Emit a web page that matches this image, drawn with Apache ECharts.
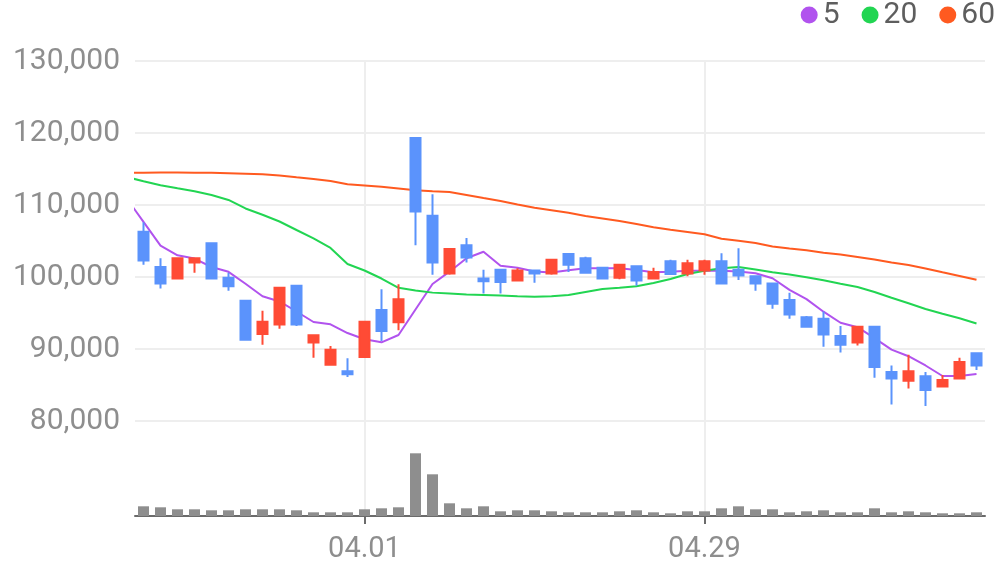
<!DOCTYPE html>
<html>
<head>
<meta charset="utf-8">
<script src="https://cdn.jsdelivr.net/npm/echarts@6/dist/echarts.min.js"></script>
<style>
html,body{margin:0;padding:0;background:#ffffff;}
#chart{width:996px;height:567px;}
</style>
</head>
<body>
<div id="chart"></div>
<script>
// Trading days (first entry lies just left of the visible window)
const categories = [
  '03.12','03.13','03.14','03.15','03.18','03.19','03.20','03.21','03.22','03.25','03.26','03.27','03.28','03.29',
  '04.01','04.02','04.03','04.04','04.05','04.08','04.09','04.10','04.11','04.12','04.15','04.16','04.17','04.18','04.19',
  '04.22','04.23','04.24','04.25','04.26','04.29',
  '04.30','05.02','05.03','05.07','05.08','05.09','05.10','05.13','05.14','05.16','05.17','05.20','05.21','05.22','05.23','05.24'
];
// [open, close, low, high]
const candles = [
  '-',
  [106300,102300,101700,107600],
  [101400, 99100, 98400,102600],
  [ 99800,102600, 99800,102600],
  [102000,102600,100600,102600],
  [104700, 99800, 99800,104700],
  [ 99900, 98700, 98100,100600],
  [ 96700, 91300, 91300, 96700],
  [ 92100, 93800, 90600, 95300],
  [ 93400, 98500, 92800, 98500],
  [ 98800, 93400, 93200, 98800],
  [ 90900, 91900, 88800, 91900],
  [ 87800, 89900, 87700, 90400],
  [ 86900, 86500, 86100, 88700],
  [ 88900, 93800, 88900, 93800],
  [ 95400, 92500, 91100, 98300],
  [ 93700, 96900, 92600, 99000],
  [119300,109100,104400,119300],
  [108500,102000,100300,111500],
  [100500,103900,100300,103900],
  [104400,102700,102000,105400],
  [ 99800, 99400, 97700,101000],
  [101000, 99300, 97700,101100],
  [ 99500,100900, 99500,101200],
  [100900,100500, 99200,100900],
  [100500,102400,100300,102400],
  [103200,101700,100700,103200],
  [102600,100600,100600,102800],
  [101300, 99800, 99800,101300],
  [ 99900,101700, 99700,101700],
  [101500, 99500, 98800,101500],
  [ 99800,100700, 99800,101300],
  [102200,100400,100400,102400],
  [100500,101900,100100,102400],
  [100900,102200,100300,102400],
  [102200, 99100, 99100,103300],
  [101000,100200, 99600,104000],
  [100100, 99100, 98100,100100],
  [ 99100, 96300, 95600, 99100],
  [ 96800, 94800, 94200, 97800],
  [ 94400, 93100, 93100, 94600],
  [ 94200, 92000, 90300, 95200],
  [ 91800, 90600, 89500, 93200],
  [ 90900, 93100, 90500, 93100],
  [ 93100, 87500, 86000, 93100],
  [ 86800, 85900, 82300, 87700],
  [ 85600, 86900, 84500, 89200],
  [ 86200, 84300, 82100, 86800],
  [ 84800, 85700, 84800, 86400],
  [ 85900, 88200, 85900, 88800],
  [ 89400, 87700, 87100, 89400]
];
const volumes = [
  '-',
  291000,261000,201000,201000,171000,171000,201000,201000,201000,171000,
  111000,111000,111000,201000,231000,261000,1881000,1251000,381000,231000,
  291000,141000,171000,171000,141000,111000,111000,111000,141000,171000,
  111000,81000,141000,141000,231000,291000,201000,201000,111000,141000,
  171000,111000,111000,231000,111000,141000,111000,81000,81000,111000
];
const ma5 = [
  110960,107650,104350,103010,102560,101390,100720,99070,97330,96600,
  95210,93750,93430,92220,91360,90930,91940,95490,99030,100740,
  102600,103510,101570,101290,100760,100630,100950,101200,101210,101210,
  100970,100650,100740,100880,100880,100880,100750,100510,99830,98220,
  96920,95180,93650,93030,91500,89920,89000,87710,86250,86250,86530
];
const ma20 = [
  113890,113290,112740,112320,111920,111390,110700,109520,108650,107710,
  106530,105360,104030,101810,100900,99790,98500,98130,97830,97710,
  97580,97500,97420,97330,97260,97330,97500,97920,98330,98500,
  98710,99170,99720,100420,100860,101210,101380,101040,100650,100350,
  99970,99540,99070,98610,97920,97110,96350,95560,94890,94280,93540
];
const ma60 = [
  114490,114490,114500,114500,114490,114470,114420,114350,114270,114100,
  113850,113610,113330,112890,112710,112530,112290,112040,111900,111810,
  111390,110970,110560,110070,109610,109280,108920,108470,108130,107780,
  107360,106920,106570,106250,105930,105320,105030,104720,104240,103960,
  103710,103380,103130,102780,102430,102010,101670,101180,100650,100140,99610
];
const maNames = ['5','20','60'];
const xTickLabels = ['04.01','04.29'];
const priceTicks = [80000, 90000, 100000, 110000, 120000, 130000];

const FONT = 'Roboto';
const GRID_COLOR = '#eeeeee';
const showAt = (i, v) => xTickLabels.indexOf(v) >= 0;

const chart = echarts.init(document.getElementById('chart'), null, {renderer: 'canvas'});
chart.setOption({
  animation: false,
  backgroundColor: '#ffffff',
  legend: {
    data: maNames,
    right: 1, top: 0, padding: 0,
    itemGap: 22, itemWidth: 17, itemHeight: 17, icon: 'circle',
    textStyle: {fontSize: 30, color: '#5e5e5e', fontFamily: FONT}
  },
  grid: [
    {left: 135, right: 11, top: 61, height: 360},
    {left: 135, right: 11, top: 421, height: 95}
  ],
  xAxis: [
    {
      type: 'category', gridIndex: 0, data: categories, min: 1, max: categories.length - 1,
      boundaryGap: true,
      axisLine: {show: false}, axisTick: {show: false}, axisLabel: {show: false},
      splitLine: {show: true, interval: showAt, alignWithLabel: true, lineStyle: {color: GRID_COLOR, width: 2}}
    },
    {
      type: 'category', gridIndex: 1, data: categories, min: 1, max: categories.length - 1,
      boundaryGap: true,
      axisLine: {show: true, lineStyle: {color: '#6b6b6b', width: 2}},
      axisTick: {show: true, interval: showAt, alignWithLabel: true, length: 8, lineStyle: {color: '#6b6b6b', width: 2}},
      axisLabel: {interval: showAt, margin: 19, fontSize: 29, color: '#8e8e8e', fontFamily: FONT},
      splitLine: {show: true, interval: showAt, alignWithLabel: true, lineStyle: {color: GRID_COLOR, width: 2}}
    }
  ],
  yAxis: [
    {
      type: 'value', gridIndex: 0, position: 'left',
      min: priceTicks[0], max: priceTicks[priceTicks.length - 1], interval: priceTicks[1] - priceTicks[0],
      axisLine: {show: false}, axisTick: {show: false},
      axisLabel: {formatter: v => v.toLocaleString('en-US'), fontSize: 30, color: '#8e8e8e', margin: 15, fontFamily: FONT},
      splitLine: {show: true, lineStyle: {color: GRID_COLOR, width: 2}}
    },
    {
      type: 'value', gridIndex: 1, min: 0, max: 2850000, show: false,
      splitLine: {show: false}
    }
  ],
  series: [
    {name: '5', type: 'line', data: ma5, xAxisIndex: 0, yAxisIndex: 0, symbol: 'none', z: 2,
     itemStyle: {color: '#b153ee'}, lineStyle: {color: '#b153ee', width: 2}},
    {name: '20', type: 'line', data: ma20, xAxisIndex: 0, yAxisIndex: 0, symbol: 'none', z: 2,
     itemStyle: {color: '#22d552'}, lineStyle: {color: '#22d552', width: 2}},
    {name: '60', type: 'line', data: ma60, xAxisIndex: 0, yAxisIndex: 0, symbol: 'none', z: 2,
     itemStyle: {color: '#ff5a20'}, lineStyle: {color: '#ff5a20', width: 2}},
    {name: 'price', type: 'candlestick', data: candles, xAxisIndex: 0, yAxisIndex: 0, z: 4,
     barWidth: 11,
     itemStyle: {color: '#ff4b35', color0: '#5b93fc', borderColor: '#ff4b35', borderColor0: '#5b93fc', borderWidth: 2}},
    {name: 'volume', type: 'bar', data: volumes, xAxisIndex: 1, yAxisIndex: 1, barWidth: 11,
     itemStyle: {color: '#8e8e8e'}}
  ]
});
</script>
</body>
</html>
